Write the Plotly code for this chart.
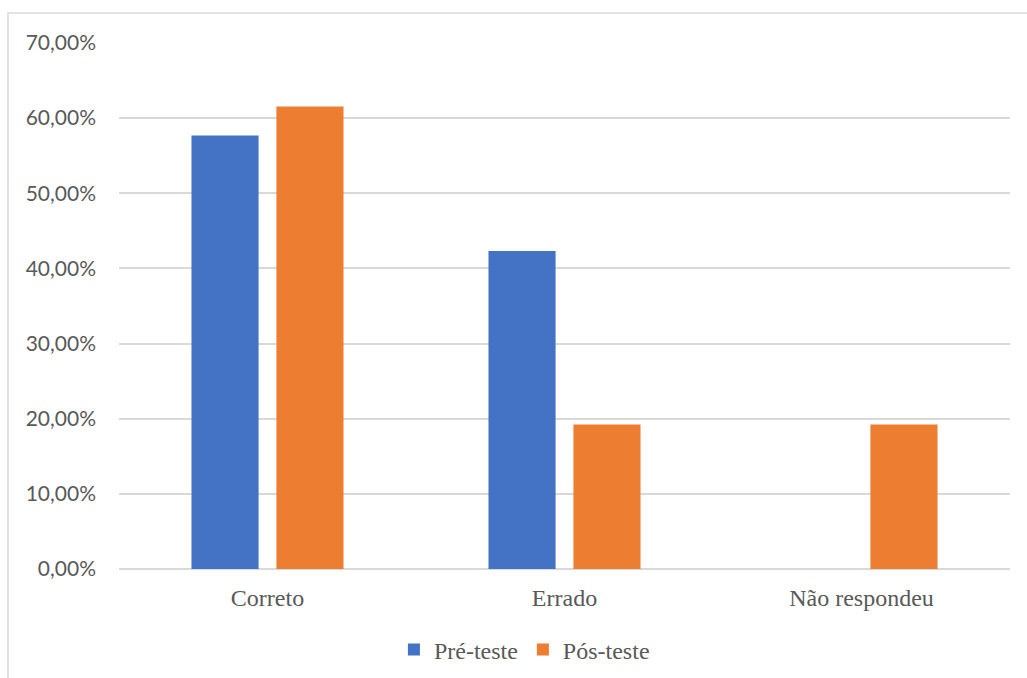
import plotly.graph_objects as go

categories = ["Correto", "Errado", "Não respondeu"]
pre_teste = [0.5769, 0.4231, 0.0]
pos_teste = [0.6154, 0.1923, 0.1923]
series_names = ["Pré-teste", "Pós-teste"]
colors = ["#4472C4", "#ED7D31"]

fig = go.Figure()
for name, vals, c in zip(series_names, [pre_teste, pos_teste], colors):
    fig.add_trace(go.Bar(x=categories, y=vals, name=name, marker=dict(color=c, line=dict(width=0))))

fig.update_layout(
    width=1027, height=678,
    margin=dict(l=119, r=17, t=43, b=109, autoexpand=False),
    paper_bgcolor="white", plot_bgcolor="white",
    barmode="group", bargap=0.428, bargroupgap=0.21,
    separators=",.",
    showlegend=True,
    legend=dict(orientation="h", x=0.455, xanchor="center", y=-0.154, yanchor="middle",
                font=dict(family="Liberation Serif", size=24, color="#595959"),
                itemwidth=30, traceorder="normal"),
    xaxis=dict(showgrid=False, showline=False, ticks="", automargin=False,
               ticklabelstandoff=12,
               tickfont=dict(family="Liberation Serif", size=24, color="#595959")),
    yaxis=dict(range=[0, 0.70], dtick=0.1, tickformat=".2%", automargin=False,
               showgrid=True, gridcolor="#D9D9D9", gridwidth=1.5,
               zeroline=True, zerolinecolor="#D9D9D9", zerolinewidth=1.5,
               showline=False, ticks="", ticklabelstandoff=22,
               tickfont=dict(family="Lato", size=21, color="#595959")),
    shapes=[dict(type="rect", xref="paper", yref="paper",
                 x0=-0.1246, x1=1.03, y0=-0.25, y1=1.057,
                 line=dict(color="#D9D9D9", width=1.5), fillcolor="rgba(0,0,0,0)", layer="below")],
)

fig.write_html("out.html")
